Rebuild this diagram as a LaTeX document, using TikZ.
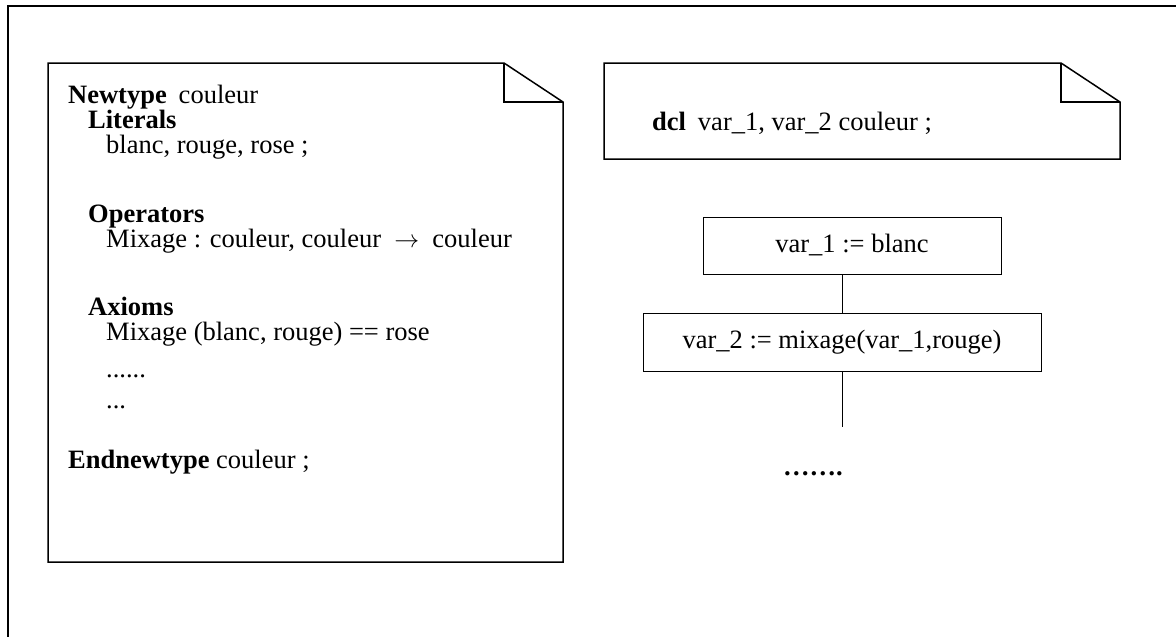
\documentclass[tikz,border=0pt]{standalone}
\usepackage{fontspec}
\setmainfont{Liberation Serif}
\begin{document}
\begin{tikzpicture}[x=1pt,y=-1pt,
  framestyle/.style={line width=1.6pt},
  notestyle/.style={line width=1.5pt, line join=miter},
  txt/.style={anchor=base west, inner sep=0pt, font=\fontsize{26.5}{30}\selectfont},
  boxstyle/.style={draw, line width=1pt, inner sep=0pt, font=\fontsize{26.5}{30}\selectfont},
  linkstyle/.style={line width=1pt}]
\useasboundingbox (0,0) rectangle (1176,637);
% outer frame
\draw[framestyle] (8,637) -- (8,6) -- (1176,6);
% left note
\draw[notestyle] (48,63) -- (504,63) -- (563,102) -- (563,562) -- (48,562) -- cycle;
\draw[notestyle] (504,63) -- (504,102) -- (563,102);
\node[txt] (t1) at (68,103) {\textbf{Newtype}\hspace{0.45em}couleur};
\node[txt] (t2) at (88,128) {\textbf{Literals}};
\node[txt] (t3) at (106,153) {blanc, rouge, rose ;};
\node[txt] (t4) at (88,222) {\textbf{Operators}};
\node[txt] (t5) at (106,247) {Mixage : couleur, couleur\hspace{0.5em}$\rightarrow$\hspace{0.5em}couleur};
\node[txt] (t6) at (88,315) {\textbf{Axioms}};
\node[txt] (t7) at (106,340) {Mixage (blanc, rouge) == rose};
\node[txt] (t8) at (106,377) {......};
\node[txt] (t9) at (106,408) {...};
\node[txt] (t10) at (68,468) {\textbf{Endnewtype} couleur ;};
% right note
\draw[notestyle] (604,63) -- (1061,63) -- (1120,102) -- (1120,159) -- (604,159) -- cycle;
\draw[notestyle] (1061,63) -- (1061,102) -- (1120,102);
\node[txt] (dcl) at (652,130) {\textbf{dcl}\hspace{0.45em}var\_1, var\_2 couleur ;};
% flow
\node[boxstyle, minimum width=298pt, minimum height=57pt] (b1) at (852,245.5) {var\_1 := blanc};
\node[boxstyle, minimum width=398pt, minimum height=58pt] (b2) at (842,342) {var\_2 := mixage(var\_1,rouge)};
\coordinate (e) at (842,427);
\draw[linkstyle] (b2.north) -- (b2.north |- b1.south);
\draw[linkstyle] (b2.south) -- (e);
\node[txt, font=\fontsize{26.5}{30}\selectfont\bfseries] (dots) at (783,475) {…….};
\end{tikzpicture}
\end{document}
